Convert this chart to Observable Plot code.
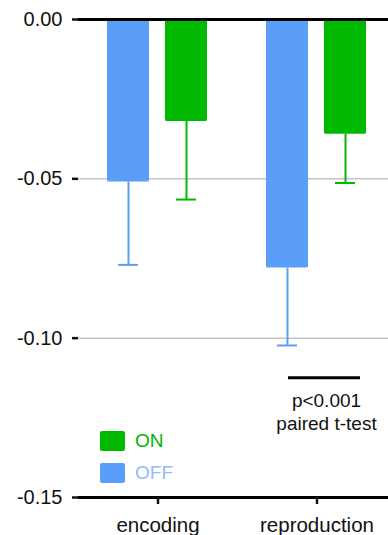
<!DOCTYPE html>
<html><head><meta charset="utf-8">
<script src="https://cdn.jsdelivr.net/npm/d3@7"></script>
<script src="https://cdn.jsdelivr.net/npm/@observablehq/plot@0.6"></script>
<style>
html,body{margin:0;padding:0;background:#fff;overflow:hidden}
#wrap{position:relative;width:388px;height:535px;overflow:hidden;font-family:"Liberation Sans",Arial,sans-serif}
.legend{position:absolute;left:100px;top:431px;font-size:19px;line-height:20px}
.legend .row{display:flex;align-items:center;height:20px;margin-bottom:12px}
.legend .sw{width:25px;height:20px;border-radius:2px;margin-right:10px}
</style></head><body><div id="wrap"></div>
<script>
// ---- data ----
const categories = ["encoding", "reproduction"];
const conditions = ["OFF", "ON"];
const onMean  = [-0.032, -0.036];
const onErr   = [0.0245, 0.0153];
const offMean = [-0.051, -0.078];
const offErr  = [0.026, 0.0243];
const yTicks = [0, -0.05, -0.10, -0.15];
const gridValues = [-0.05, -0.10];
const legendLabels = ["ON", "OFF"];
const sigTask = "reproduction";
const sigY = -0.1124;
const sigTextY = -0.1165;
const sigText = "p<0.001\npaired t-test";

// ---- styles ----
const colors = {ON: "#00b900", OFF: "#5a9ef9"};
const legendTextColors = {ON: "#00b400", OFF: "#8fbdf7"};
const font = '"Liberation Sans", Arial, sans-serif';

const rows = [];
categories.forEach((task, i) => {
  rows.push({task, cond: "OFF", mean: offMean[i], err: offErr[i]});
  rows.push({task, cond: "ON", mean: onMean[i], err: onErr[i]});
});
const sig = [{task: sigTask, from: "OFF", to: "ON", y: sigY, ty: sigTextY, label: sigText}];

const chart = Plot.plot({
  width: 388, height: 535,
  marginTop: 19, marginBottom: 38, marginLeft: 78, marginRight: 0,
  style: {fontFamily: font, fontSize: "19px", color: "#111", background: "transparent", overflow: "visible"},
  fx: {domain: categories, range: [78, 396], padding: 0, label: null, axis: null},
  x: {domain: conditions, paddingInner: 0.27, paddingOuter: 0.49, axis: null},
  y: {domain: [-0.15, 0], label: null, axis: null},
  color: {domain: ["ON", "OFF"], range: [colors.ON, colors.OFF]},
  marks: [
    Plot.ruleY(gridValues, {stroke: "#c4c4c4", strokeWidth: 1.5}),
    Plot.barY(rows, {fx: "task", x: "cond", y: "mean", fill: "cond", rx: 1.5}),
    Plot.ruleX(rows, {fx: "task", x: "cond", y1: "mean", y2: d => d.mean - d.err, stroke: "cond", strokeWidth: 2}),
    Plot.tickY(rows, {fx: "task", x: "cond", y: d => d.mean - d.err, stroke: "cond", strokeWidth: 2, insetLeft: 11, insetRight: 11}),
    Plot.ruleY([0, -0.15], {stroke: "#000", strokeWidth: 3}),
    Plot.axisY({ticks: yTicks, tickFormat: d => d.toFixed(2), tickSize: 6, tickPadding: 10, strokeWidth: 2.5, line: true, label: null, fontSize: 20}),
    Plot.axisFx({anchor: "bottom", tickSize: 7, tickPadding: 13, strokeWidth: 2.5, label: null, fontSize: 20.5}),
    Plot.ruleY(sig, {fx: "task", x1: "from", x2: "to", y: "y", stroke: "#000", strokeWidth: 3, insetLeft: 22, insetRight: 6}),
    Plot.text(sig, {fx: "task", x: "to", y: "ty", text: "label", dx: -19, lineAnchor: "top", lineHeight: 1.2, fontSize: 19, fill: "#111"})
  ]
});
const wrap = document.getElementById("wrap");
wrap.appendChild(chart);

const legend = document.createElement("div");
legend.className = "legend";
legendLabels.forEach(k => {
  const row = document.createElement("div");
  row.className = "row";
  const sw = document.createElement("div");
  sw.className = "sw";
  sw.style.background = colors[k];
  const t = document.createElement("span");
  t.textContent = k;
  t.style.color = legendTextColors[k];
  row.appendChild(sw); row.appendChild(t);
  legend.appendChild(row);
});
wrap.appendChild(legend);
</script>
</body></html>
